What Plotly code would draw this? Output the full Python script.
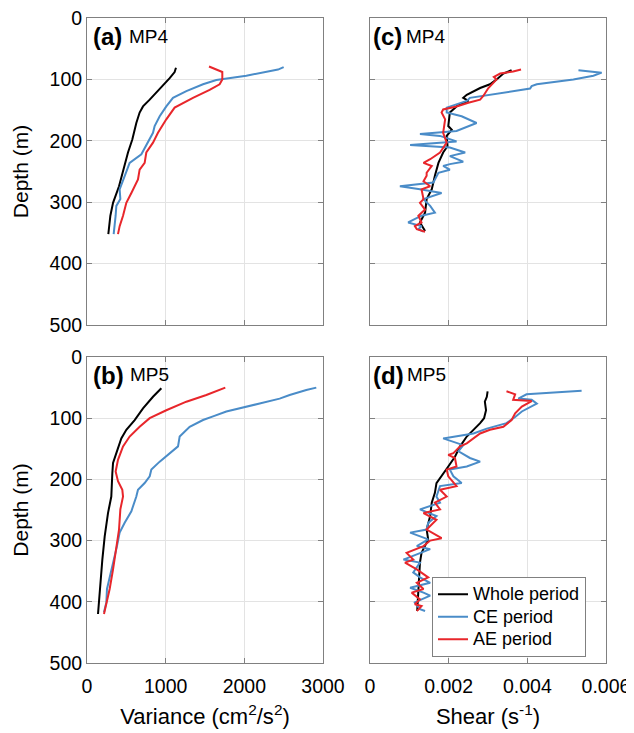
import plotly.graph_objects as go

# The page body has an 8px default margin, so positions below are given in
# page pixels and shifted by OFF into figure pixels.
OFF = 8
W, H = 634, 733

# ---------------- data ----------------
# Panel (a) MP4 variance
a_whole_x = [1131, 1114, 1051, 966, 881, 797, 712, 669, 627, 576, 521, 458, 407, 331, 297, 271]
a_whole_z = [81, 88, 98, 110, 122, 133, 144, 154, 171, 198, 219, 247, 274, 301, 322, 352]
a_ce_x = [2500, 2428, 2025, 1771, 1644, 1475, 1263, 1093, 1008, 924, 860, 839, 775, 691, 542, 479, 415, 424, 373, 364, 339]
a_ce_z = [80, 84, 94, 98, 101, 108, 119, 130, 144, 160, 176, 187, 203, 222, 236, 257, 279, 295, 306, 322, 352]
a_ae_x = [1551, 1644, 1720, 1720, 1686, 1559, 1347, 1114, 1008, 902, 839, 754, 733, 669, 648, 564, 500, 458, 415, 394]
a_ae_z = [79, 84, 88, 100, 108, 117, 130, 146, 165, 187, 203, 219, 236, 247, 263, 285, 301, 322, 339, 352]

# Panel (b) MP5 variance
b_whole_x = [945, 839, 712, 606, 500, 436, 373, 331, 322, 309, 267, 225, 195, 169, 153, 140]
b_whole_z = [51, 65, 84, 103, 119, 133, 157, 173, 190, 228, 255, 293, 331, 374, 404, 420]
b_ce_x = [2915, 2788, 2576, 2449, 2195, 1983, 1771, 1602, 1475, 1305, 1220, 1178, 1157, 1051, 924, 818, 797, 733, 648, 627, 564, 479, 415, 381, 331, 288, 254, 246, 216]
b_ce_z = [50, 54, 62, 68, 76, 82, 89, 97, 103, 114, 125, 130, 146, 157, 171, 184, 195, 206, 217, 228, 252, 271, 287, 309, 336, 358, 379, 401, 417]
b_ae_x = [1758, 1517, 1263, 1008, 797, 669, 542, 458, 394, 364, 394, 449, 458, 424, 407, 373, 331, 288, 246, 216]
b_ae_z = [50, 62, 73, 87, 100, 114, 130, 146, 168, 187, 203, 217, 228, 249, 282, 314, 347, 379, 401, 420]

# Panel (c) MP4 shear
c_whole_x = [0.00360, 0.00339, 0.00322, 0.00305, 0.00280, 0.00246, 0.00237, 0.00250, 0.00220, 0.00203, 0.00199, 0.00208, 0.00195, 0.00197, 0.00186, 0.00174, 0.00165, 0.00157, 0.00144, 0.00140, 0.00127, 0.00136, 0.00140]
c_whole_z = [85, 90.5, 100, 108, 114, 125, 130, 135, 144, 154, 176, 182, 192, 209, 219, 236, 257, 279, 295, 317, 333, 344, 347]
c_ce_x = [0.00530, 0.00589, 0.00568, 0.00517, 0.00424, 0.00411, 0.00407, 0.00305, 0.00254, 0.00246, 0.00195, 0.00195, 0.00233, 0.00271, 0.00237, 0.00220, 0.00127, 0.00178, 0.00220, 0.00102, 0.00203, 0.00242, 0.00203, 0.00237, 0.00203, 0.00186, 0.00203, 0.00174, 0.00161, 0.00076, 0.00127, 0.00182, 0.00136, 0.00153, 0.00165, 0.00131, 0.00097, 0.00131, 0.00123, 0.00136]
c_ce_z = [85, 89, 94, 100, 108, 111, 115, 125, 130, 135, 146, 154, 160, 171, 179, 184, 189, 192, 201, 207, 211, 219, 225, 234, 238, 241, 247, 252, 268, 274, 279, 285, 295, 306, 317, 322, 333, 339, 344, 348]
c_ae_x = [0.00384, 0.00364, 0.00331, 0.00315, 0.00322, 0.00314, 0.00301, 0.00288, 0.00280, 0.00250, 0.00220, 0.00186, 0.00182, 0.00191, 0.00186, 0.00195, 0.00178, 0.00153, 0.00136, 0.00157, 0.00144, 0.00144, 0.00136, 0.00153, 0.00131, 0.00136, 0.00127, 0.00140, 0.00123, 0.00131, 0.00114, 0.00119, 0.00140]
c_ae_z = [84, 87, 90.5, 96, 100, 106, 114, 127, 133, 138, 144, 149, 154, 165, 187, 203, 219, 230, 236, 241, 252, 257, 266, 274, 279, 295, 301, 312, 322, 333, 339, 344, 348]

# Panel (d) MP5 shear
d_whole_x = [0.00299, 0.00297, 0.00292, 0.00295, 0.00290, 0.00280, 0.00263, 0.00246, 0.00229, 0.00216, 0.00199, 0.00182, 0.00169, 0.00165, 0.00157, 0.00153, 0.00144, 0.00148, 0.00131, 0.00127, 0.00125, 0.00123, 0.00120, 0.00120]
d_whole_z = [56, 65, 73, 87, 100, 108, 119, 130, 146, 163, 179, 195, 206, 222, 238, 260, 282, 298, 320, 336, 358, 385, 407, 415]
d_ce_x = [0.00538, 0.00432, 0.00398, 0.00377, 0.00411, 0.00424, 0.00398, 0.00386, 0.00369, 0.00347, 0.00297, 0.00263, 0.00186, 0.00237, 0.00225, 0.00254, 0.00280, 0.00246, 0.00203, 0.00212, 0.00233, 0.00178, 0.00169, 0.00178, 0.00127, 0.00169, 0.00148, 0.00144, 0.00102, 0.00148, 0.00119, 0.00153, 0.00085, 0.00127, 0.00110, 0.00127, 0.00153, 0.00102, 0.00136, 0.00153, 0.00114, 0.00127, 0.00140]
d_ce_z = [55, 59, 61, 68, 70, 76, 84, 89, 98, 108, 117, 125, 133, 144, 154, 165, 171, 179, 184, 195, 206, 211, 228, 238, 249, 260, 271, 282, 287, 298, 309, 314, 331, 336, 352, 360, 369, 377, 385, 390, 401, 412, 415]
d_ae_x = [0.00347, 0.00369, 0.00364, 0.00411, 0.00386, 0.00369, 0.00360, 0.00339, 0.00305, 0.00280, 0.00246, 0.00229, 0.00212, 0.00199, 0.00216, 0.00220, 0.00195, 0.00199, 0.00220, 0.00178, 0.00195, 0.00165, 0.00178, 0.00136, 0.00169, 0.00144, 0.00182, 0.00153, 0.00136, 0.00093, 0.00110, 0.00089, 0.00119, 0.00148, 0.00119, 0.00136, 0.00106, 0.00127, 0.00114, 0.00131, 0.00119]
d_ae_z = [56, 61, 70, 72, 81, 92, 103, 114, 119, 125, 141, 146, 157, 160, 165, 179, 184, 195, 211, 217, 228, 238, 249, 255, 266, 282, 296, 300, 309, 320, 331, 336, 347, 360, 369, 379, 385, 396, 404, 407, 415]

series_names = ["Whole period", "CE period", "AE period"]
series_colors = ["#000000", "#4a8cc8", "#e8262b"]

depth_ticks = [0, 100, 200, 300, 400, 500]
var_ticks = [0, 1000, 2000, 3000]
shear_ticks = [0, 0.002, 0.004, 0.006]
shear_labels = ["0", "0.002", "0.004", "0.006"]

# ---------------- figure ----------------
FONT = "Liberation Sans, Arial, sans-serif"
fig = go.Figure()

panels = [
    ("x", "y", [(a_whole_x, a_whole_z), (a_ce_x, a_ce_z), (a_ae_x, a_ae_z)], False),
    ("x2", "y2", [(c_whole_x, c_whole_z), (c_ce_x, c_ce_z), (c_ae_x, c_ae_z)], False),
    ("x3", "y3", [(b_whole_x, b_whole_z), (b_ce_x, b_ce_z), (b_ae_x, b_ae_z)], False),
    ("x4", "y4", [(d_whole_x, d_whole_z), (d_ce_x, d_ce_z), (d_ae_x, d_ae_z)], True),
]
for xa, ya, data, show in panels:
    for (xv, zv), name, col in zip(data, series_names, series_colors):
        fig.add_trace(go.Scatter(x=xv, y=zv, xaxis=xa, yaxis=ya, mode="lines",
                                 name='<span style="font-size:18px">' + name + '</span>',
                                 showlegend=show, hovertemplate=name + "<extra></extra>",
                                 line=dict(color=col, width=2)))

def px_x(p):
    return (p - OFF) / W

def px_y(p):
    return 1 - (p - OFF) / H

AX = dict(showline=True, linecolor="#808080", linewidth=1, mirror="ticks",
          ticks="inside", ticklen=5, tickcolor="#808080", automargin=False,
          ticklabeloverflow="allow",
          showgrid=True, gridcolor="#e3e3e3", gridwidth=1, zeroline=False,
          tickfont=dict(size=19.5, color="#000000", family=FONT))

xdomL = [px_x(87), px_x(323)]
xdomR = [px_x(370), px_x(606)]
ydomT = [px_y(325), px_y(18)]
ydomB = [px_y(663), px_y(357)]

fig.update_layout(
    width=W, height=H,
    margin=dict(l=0, r=0, t=0, b=0),
    paper_bgcolor="white", plot_bgcolor="white",
    font=dict(family=FONT, color="#000000"),
    xaxis=dict(domain=xdomL, anchor="y", range=[0, 3000], tickvals=var_ticks, showticklabels=False, **AX),
    yaxis=dict(domain=ydomT, anchor="x", range=[500, 0], tickvals=depth_ticks,
               title=dict(text="Depth (m)", font=dict(size=21), standoff=15), **AX),
    xaxis2=dict(domain=xdomR, anchor="y2", range=[0, 0.006], tickvals=shear_ticks, showticklabels=False, **AX),
    yaxis2=dict(domain=ydomT, anchor="x2", range=[500, 0], tickvals=depth_ticks, showticklabels=False, **AX),
    xaxis3=dict(domain=xdomL, anchor="y3", range=[0, 3000], tickvals=var_ticks, ticklabelstandoff=6,
                title=dict(text="Variance (cm<sup>2</sup>/s<sup>2</sup>)", font=dict(size=22), standoff=12), **AX),
    yaxis3=dict(domain=ydomB, anchor="x3", range=[500, 0], tickvals=depth_ticks,
                title=dict(text="Depth (m)", font=dict(size=21), standoff=15), **AX),
    xaxis4=dict(domain=xdomR, anchor="y4", range=[0, 0.006], tickvals=shear_ticks, ticktext=shear_labels,
                ticklabelstandoff=6,
                title=dict(text="Shear (s<sup>-1</sup>)", font=dict(size=22), standoff=12), **AX),
    yaxis4=dict(domain=ydomB, anchor="x4", range=[500, 0], tickvals=depth_ticks, showticklabels=False, **AX),
    legend=dict(x=px_x(432), y=px_y(577), xanchor="left", yanchor="top",
                bgcolor="white", bordercolor="#808080", borderwidth=1,
                font=dict(size=15, family=FONT, color="#000000"),
                tracegroupgap=0),
)

labels = [("(a)", "MP4", 92, 128, 37), ("(c)", "MP4", 372, 405, 37),
          ("(b)", "MP5", 92, 129, 375), ("(d)", "MP5", 372, 406, 375)]
for tag, site, xt, xs, yc in labels:
    fig.add_annotation(xref="paper", yref="paper", x=px_x(xt), y=px_y(yc), xanchor="left", yanchor="middle",
                       text="<b>" + tag + "</b>", showarrow=False, borderpad=0,
                       font=dict(size=24, family=FONT, color="#000000"))
    fig.add_annotation(xref="paper", yref="paper", x=px_x(xs), y=px_y(yc - 1), xanchor="left", yanchor="middle",
                       text=site, showarrow=False, borderpad=0,
                       font=dict(size=19, family=FONT, color="#000000"))

fig.write_html("out.html")
